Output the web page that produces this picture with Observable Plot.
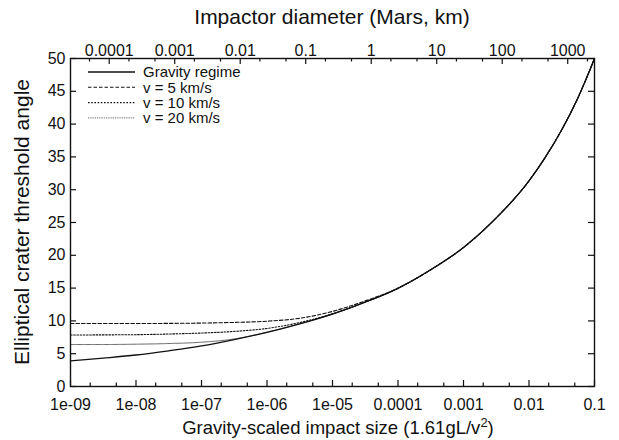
<!DOCTYPE html>
<html><head><meta charset="utf-8">
<script src="https://cdn.jsdelivr.net/npm/d3@7"></script>
<script src="https://cdn.jsdelivr.net/npm/@observablehq/plot@0.6"></script>
<style>
body{margin:0;background:#fff}
svg{font-family:"Liberation Sans",Arial,Helvetica,sans-serif}
</style>
</head><body><div id="chart"></div>
<script>
// Gravity-scaled impact size (x), half-decade steps
const sizes = [1e-9, 3.16e-9, 1e-8, 3.16e-8, 1e-7, 3.16e-7, 1e-6, 3.16e-6, 1e-5, 3.16e-5, 1e-4, 3.16e-4, 1e-3, 3.16e-3, 1e-2, 1.78e-2, 3.16e-2, 5.62e-2, 0.1];
// Elliptical crater threshold angle for each series
const gravity = [3.91, 4.33, 4.80, 5.44, 6.18, 7.15, 8.26, 9.55, 11.04, 12.86, 14.97, 17.80, 21.19, 25.70, 31.35, 34.97, 39.13, 44.06, 50.0];
const v5  = [9.6, 9.6, 9.6, 9.62, 9.67, 9.77, 9.95, 10.4, 11.45, 13.05, 15.0, 17.80, 21.19, 25.70, 31.35, 34.97, 39.13, 44.06, 50.0];
const v10 = [7.85, 7.87, 7.9, 8.0, 8.15, 8.4, 8.85, 9.75, 11.1, 12.87, 14.97, 17.80, 21.19, 25.70, 31.35, 34.97, 39.13, 44.06, 50.0];
const v20 = [6.4, 6.4, 6.45, 6.55, 6.75, 7.25, 8.28, 9.56, 11.04, 12.86, 14.97, 17.80, 21.19, 25.70, 31.35, 34.97, 39.13, 44.06, 50.0];
const seriesNames = ["Gravity regime", "v = 5 km/s", "v = 10 km/s", "v = 20 km/s"];
const seriesValues = [gravity, v5, v10, v20];
const seriesDash = [null, "3.5,2", "1.6,1.6", "0.9,0.9"];
const seriesColor = ["#111", "#111", "#111", "#555"];
const seriesWidth = [1.3, 1.1, 1.1, 1.0];

// Tick labels
const xMajor = [1e-9, 1e-8, 1e-7, 1e-6, 1e-5, 1e-4, 1e-3, 1e-2, 1e-1];
const xMajorLabels = ["1e-09", "1e-08", "1e-07", "1e-06", "1e-05", "0.0001", "0.001", "0.01", "0.1"];
const diamMajor = [1e-4, 1e-3, 1e-2, 0.1, 1, 10, 100, 1000];
const diamLabels = ["0.0001", "0.001", "0.01", "0.1", "1", "10", "100", "1000"];
const diamMinor = [5e-5, 2e-4, 5e-4, 2e-3, 5e-3, 2e-2, 5e-2, 0.2, 0.5, 2, 5, 20, 50, 200, 500, 2000];
const sizePerKm = 3.9e-5; // scaled size for a 1 km impactor on Mars
const yTicks = [0, 5, 10, 15, 20, 25, 30, 35, 40, 45, 50];

const W = 619, H = 440, mL = 70, mR = 25, mT = 58, mB = 54;
const innerW = W - mL - mR, innerH = H - mT - mB;
const majorLen = 6, minorLen = 3.5;

const rows = seriesNames.flatMap((name, s) => sizes.map((x, i) => ({series: name, x, y: seriesValues[s][i]})));
const xMinor = xMajor.slice(0, -1).flatMap(d => [2 * d, 5 * d]);
const bottomLabel = new Map(xMajor.map((d, i) => [d, xMajorLabels[i]]));
const topPos = diamMajor.map(d => d * sizePerKm);
const topLabel = new Map(topPos.map((d, i) => [d, diamLabels[i]]));
const topMinorPos = diamMinor.map(d => d * sizePerKm);

const lineMarks = seriesNames.map((name, s) =>
  Plot.line(rows.filter(r => r.series === name), {
    x: "x", y: "y", curve: "monotone-x",
    stroke: seriesColor[s], strokeWidth: seriesWidth[s],
    strokeDasharray: seriesDash[s]
  })
).reverse();

const tickStyle = {stroke: "#111", strokeWidth: 1.2};
const chart = Plot.plot({
  width: W, height: H,
  marginLeft: mL, marginRight: mR, marginTop: mT, marginBottom: mB,
  style: {fontFamily: "Liberation Sans, Arial, Helvetica, sans-serif", fontSize: "16px", color: "black", background: "white"},
  x: {type: "log", domain: [1e-9, 0.1], axis: null},
  y: {domain: [0, 50], axis: null},
  marks: [
    ...lineMarks,
    // bottom ticks (inward)
    Plot.ruleX(xMajor, {x: d => d, insetTop: innerH - majorLen, ...tickStyle}),
    Plot.ruleX(xMinor, {x: d => d, insetTop: innerH - minorLen, ...tickStyle}),
    // top ticks (inward)
    Plot.ruleX(topPos, {x: d => d, insetBottom: innerH - majorLen, ...tickStyle}),
    Plot.ruleX(topMinorPos, {x: d => d, insetBottom: innerH - minorLen, ...tickStyle}),
    // left and right ticks (inward)
    Plot.ruleY(yTicks, {y: d => d, insetRight: innerW - majorLen, ...tickStyle}),
    Plot.ruleY(yTicks, {y: d => d, insetLeft: innerW - majorLen, ...tickStyle}),
    // tick labels
    Plot.text(xMajor, {x: d => d, frameAnchor: "bottom", dy: 12, lineAnchor: "top", text: d => bottomLabel.get(d), fontSize: 16, fill: "#111"}),
    Plot.text(topPos, {x: d => d, frameAnchor: "top", dy: -3, lineAnchor: "bottom", text: d => topLabel.get(d), fontSize: 16, fill: "#111"}),
    Plot.text(yTicks, {y: d => d, frameAnchor: "left", dx: -5, textAnchor: "end", text: d => String(d), fontSize: 16, fill: "#111"}),
    Plot.frame({stroke: "#111", strokeWidth: 1.4})
  ]
});
document.getElementById("chart").appendChild(chart);

const svg = d3.select(chart);
// Axis titles
svg.append("text").attr("x", 332).attr("y", 24).attr("text-anchor", "middle")
  .attr("font-size", 21).attr("fill", "#111").text("Impactor diameter (Mars, km)");
svg.append("text").attr("transform", "translate(29,222) rotate(-90)").attr("text-anchor", "middle")
  .attr("font-size", 21).attr("fill", "#111").text("Elliptical crater threshold angle");
const xl = svg.append("text").attr("x", 338).attr("y", 434).attr("text-anchor", "middle")
  .attr("font-size", 18.5).attr("fill", "#111");
xl.append("tspan").text("Gravity-scaled impact size (1.61gL/v");
xl.append("tspan").attr("dy", -7).attr("font-size", 13).text("2");
xl.append("tspan").attr("dy", 7).text(")");

// Legend
const lg = svg.append("g");
seriesNames.forEach((name, s) => {
  const yy = 72 + s * 15.3;
  lg.append("line").attr("x1", 88).attr("x2", 135).attr("y1", yy).attr("y2", yy)
    .attr("stroke", seriesColor[s]).attr("stroke-width", seriesWidth[s])
    .attr("stroke-dasharray", seriesDash[s]);
  lg.append("text").attr("x", 143).attr("y", yy).attr("dy", "0.35em")
    .attr("text-anchor", "start")
    .attr("font-size", 15).attr("fill", "#111").text(name);
});
</script>
</body></html>
